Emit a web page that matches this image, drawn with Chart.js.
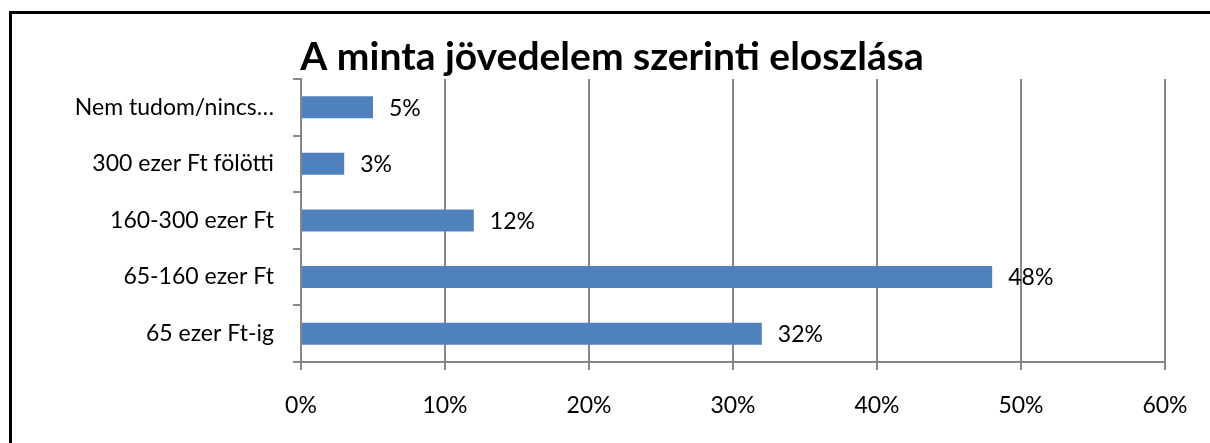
<!DOCTYPE html>
<html>
<head>
<meta charset="utf-8">
<script src="https://cdn.jsdelivr.net/npm/chart.js@4/dist/chart.umd.min.js"></script>
<style>
  html, body { margin: 0; padding: 0; background: #ffffff; }
  #wrap { position: relative; width: 1210px; height: 443px; overflow: hidden; }
  #frame { position: absolute; left: 9px; top: 11px; right: -10px; bottom: -10px;
           border-left: 3px solid #000; border-top: 3px solid #000; }
  #c { position: absolute; left: 0; top: 0; }
</style>
</head>
<body>
<div id="wrap">
  <div id="frame"></div>
  <canvas id="c" width="1210" height="443"></canvas>
</div>
<script>
const titleText = "A minta jövedelem szerinti eloszlása";
const categories = ["Nem tudom/nincs…", "300 ezer Ft fölötti", "160-300 ezer Ft", "65-160 ezer Ft", "65 ezer Ft-ig"];
const shares = [5, 3, 12, 48, 32];
const xTicks = [0, 10, 20, 30, 40, 50, 60];

const FONT = "Lato, 'Open Sans', sans-serif";
const GRID = "#868686";

const valueLabels = {
  id: "valueLabels",
  afterDatasetsDraw(chart) {
    const ctx = chart.ctx;
    const meta = chart.getDatasetMeta(0);
    ctx.save();
    ctx.font = "23px " + FONT;
    ctx.fillStyle = "#000";
    ctx.textAlign = "left";
    ctx.textBaseline = "middle";
    meta.data.forEach((bar, i) => {
      ctx.fillText(shares[i] + "%", bar.x + 16, bar.y + 1);
    });
    ctx.restore();
  }
};

new Chart(document.getElementById("c"), {
  type: "bar",
  data: {
    labels: categories,
    datasets: [{
      data: shares,
      backgroundColor: "#4F81BD",
      borderWidth: 0,
      barPercentage: 0.39,
      categoryPercentage: 1.0
    }]
  },
  options: {
    indexAxis: "y",
    responsive: false,
    animation: false,
    devicePixelRatio: 1,
    layout: { padding: { left: 59, right: 45, top: 0, bottom: 0 } },
    plugins: {
      legend: { display: false },
      tooltip: { enabled: false },
      title: {
        display: true,
        text: titleText,
        color: "#000",
        font: { family: FONT, size: 39, weight: "bold", lineHeight: 1.1 },
        padding: { top: 36, bottom: 0 }
      }
    },
    scales: {
      x: {
        min: 0, max: 60,
        afterBuildTicks(scale) { scale.ticks = xTicks.map(v => ({ value: v })); },
        afterFit(scale) { scale.height = 81; },
        grid: { color: GRID, lineWidth: 2, tickLength: 8, drawOnChartArea: true },
        border: { color: GRID, width: 2 },
        ticks: {
          color: "#000",
          padding: 22,
          font: { family: FONT, size: 23 },
          callback: v => v + "%"
        }
      },
      y: {
        afterFit(scale) { scale.width = 301 - 59; },
        grid: { color: GRID, lineWidth: 2, tickLength: 8, drawOnChartArea: false, offset: true },
        border: { color: GRID, width: 2 },
        ticks: {
          color: "#000",
          padding: 19,
          font: { family: FONT, size: 23 }
        }
      }
    }
  },
  plugins: [valueLabels]
});
</script>
</body>
</html>
